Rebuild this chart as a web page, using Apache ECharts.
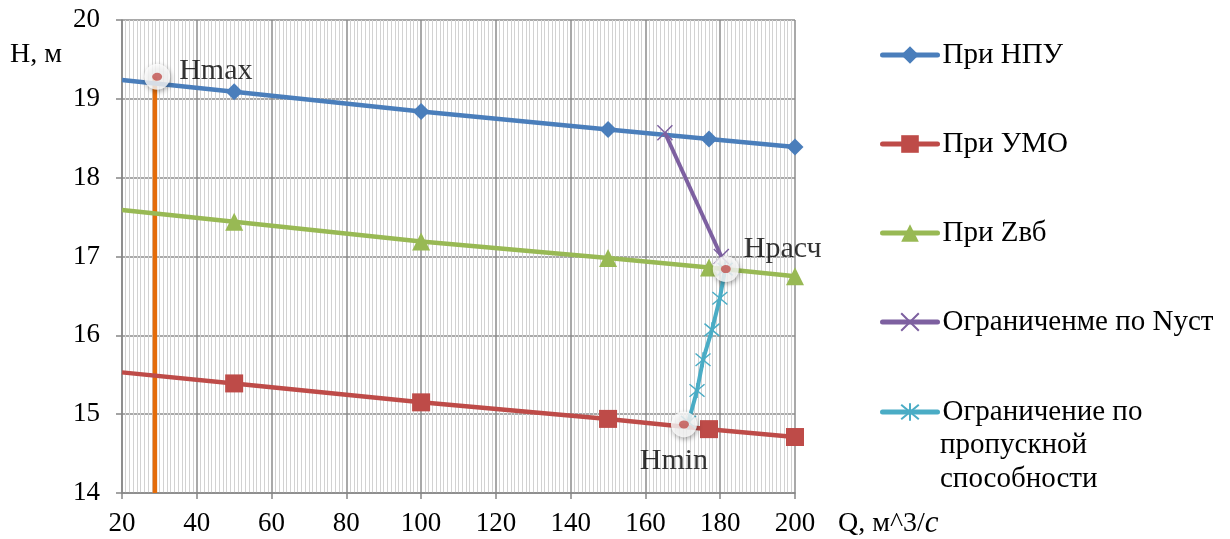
<!DOCTYPE html>
<html>
<head>
<meta charset="utf-8">
<script src="https://cdn.jsdelivr.net/npm/echarts@6/dist/echarts.min.js"></script>
<style>
  html, body { margin: 0; padding: 0; background: #fff; }
  #chart { width: 1230px; height: 539px; }
</style>
</head>
<body>
<div id="chart"></div>
<script>
// расход Q, м3/с и напор H, м
const qPoints = [20, 50, 100, 150, 177, 200]
const hNpu = [19.24, 19.09, 18.84, 18.61, 18.49, 18.39]
const hUmo = [15.53, 15.39, 15.15, 14.94, 14.81, 14.71]
const hZvb = [17.59, 17.44, 17.19, 16.98, 16.86, 16.75]
// ограничения
const nustQ = [165.2, 180.3]
const nustH = [18.57, 17.0]
const propQ = [171.5, 173.8, 175.4, 177.8, 179.9, 181.3]
const propH = [14.9, 15.3, 15.69, 16.07, 16.47, 16.84]
// вертикаль Hmax
const vertQ = [28.8, 28.8]
const vertH = [14, 19.28]
// характерные точки
const pointNames = ['Hmax', 'Hрасч', 'Hmin']
const pointQ = [29.4, 181.5, 170.3]
const pointH = [19.28, 16.84, 14.87]

const seriesNames = [
  'При НПУ',
  'При УМО',
  'При Zвб',
  'Ограниченме по Nуст',
  'Ограничение по пропускной способности'
]

const serif = '"Liberation Serif", "Times New Roman", serif'
const zip = (xs, ys) => xs.map((x, i) => [x, ys[i]])
const firstHidden = (xs, ys) =>
  xs.map((x, i) => (i === 0 ? { value: [x, ys[i]], symbol: 'none' } : [x, ys[i]]))

const crossPath = 'path://M0,0L10,10M10,0L0,10'
const starPath = 'path://M0,0L10,10M10,0L0,10M5,-1L5,11'

const chart = echarts.init(document.getElementById('chart'))

// центры значков легенды по вертикали
const legendCenters = [55, 144, 233, 322, 412]
const legendFont = 29
const legends = seriesNames.map((name, i) => ({
  data: [name],
  left: 875,
  top: legendCenters[i] - 5 - legendFont / 2,
  itemWidth: 55,
  itemHeight: 22,
  itemGap: 0,
  lineStyle: { width: 5, cap: 'round' },
  textStyle: { fontFamily: serif, fontSize: legendFont, color: '#000' },
  formatter: i === 4 ? 'Ограничение по' : '{name}',
  selectedMode: false
}))

chart.setOption({
  animation: false,
  backgroundColor: '#fff',
  grid: { left: 122, right: 435, top: 20, bottom: 46 },
  legend: legends,
  xAxis: {
    type: 'value',
    min: 20,
    max: 200,
    interval: 20,
    axisLine: { onZero: false, lineStyle: { color: '#868686', width: 1.5 } },
    axisTick: { show: true, length: 6, lineStyle: { color: '#868686', width: 1.5 } },
    axisLabel: { fontFamily: serif, fontSize: 27, color: '#000', margin: 17 },
    splitLine: { show: true, lineStyle: { color: '#8c8c8c', width: 1.5 } },
    minorTick: { show: true, splitNumber: 20, length: 0 },
    minorSplitLine: { show: true, lineStyle: { color: '#d2d2d2', width: 1 } }
  },
  yAxis: {
    type: 'value',
    min: 14,
    max: 20,
    interval: 1,
    axisLine: { show: true, lineStyle: { color: '#868686', width: 1.5 } },
    axisTick: { show: true, length: 6, lineStyle: { color: '#868686', width: 1.5 } },
    axisLabel: { fontFamily: serif, fontSize: 27, color: '#000', margin: 22 },
    splitLine: { show: true, lineStyle: { color: '#8c8c8c', width: 1.5 } }
  },
  graphic: [
    {
      type: 'text', left: 10, top: 41,
      style: { text: 'H, м', font: '28px ' + serif, fill: '#000' }
    },
    {
      type: 'text', left: 838, top: 508,
      style: {
        text: '{a|Q, м^3/}{b|c}',
        rich: {
          a: { fontFamily: serif, fontSize: 28, fill: '#000' },
          b: { fontFamily: serif, fontSize: 31, fontStyle: 'italic', fill: '#000' }
        }
      }
    },
    {
      type: 'text', left: 940, top: 446 - legendFont / 2 - 1,
      style: { text: 'пропускной', font: legendFont + 'px ' + serif, fill: '#000' }
    },
    {
      type: 'text', left: 940, top: 480 - legendFont / 2 - 1,
      style: { text: 'способности', font: legendFont + 'px ' + serif, fill: '#000' }
    }
  ],
  series: [
    {
      name: seriesNames[0], type: 'line', data: firstHidden(qPoints, hNpu),
      color: '#4A7EBB', lineStyle: { width: 4.5 },
      symbol: 'diamond', symbolSize: 17, z: 3
    },
    {
      name: seriesNames[1], type: 'line', data: firstHidden(qPoints, hUmo),
      color: '#BE4B48', lineStyle: { width: 4.5 },
      symbol: 'rect', symbolSize: 18, z: 3
    },
    {
      name: seriesNames[2], type: 'line', data: firstHidden(qPoints, hZvb),
      color: '#98B954', lineStyle: { width: 4.5 },
      symbol: 'triangle', symbolSize: 18, z: 3
    },
    {
      name: seriesNames[3], type: 'line', data: zip(nustQ, nustH),
      color: '#7D60A0', lineStyle: { width: 4 },
      symbol: crossPath, symbolSize: 15,
      itemStyle: { borderColor: '#7D60A0', borderWidth: 1.5 }, z: 4
    },
    {
      name: seriesNames[4], type: 'line', data: zip(propQ, propH),
      color: '#4AACC5', lineStyle: { width: 4 },
      symbol: starPath, symbolSize: 15,
      itemStyle: { borderColor: '#4AACC5', borderWidth: 1.5 }, z: 4
    },
    {
      name: 'Hmax line', type: 'line', data: zip(vertQ, vertH),
      color: '#E46C0A', lineStyle: { width: 4.5 }, symbol: 'none', z: 2
    },
    {
      name: 'points', type: 'scatter',
      data: pointQ.map((q, i) => ({
        value: [q, pointH[i]],
        label: {
          show: true,
          formatter: pointNames[i],
          position: i === 2 ? 'bottom' : 'right',
          offset: i === 0 ? [4, -6] : i === 1 ? [0, -20] : [-10, 4]
        }
      })),
      symbol: 'circle', symbolSize: 26,
      itemStyle: {
        color: '#fff', shadowBlur: 5, shadowOffsetX: 1, shadowOffsetY: 2,
        shadowColor: 'rgba(0,0,0,0.4)'
      },
      label: { fontFamily: serif, fontSize: 30, color: '#000' },
      z: 6
    },
    {
      name: 'dots', type: 'scatter',
      data: zip(pointQ, pointH),
      symbol: 'circle', symbolSize: [10, 8],
      itemStyle: { color: '#C0504D' },
      z: 7
    }
  ]
})
</script>
</body>
</html>
